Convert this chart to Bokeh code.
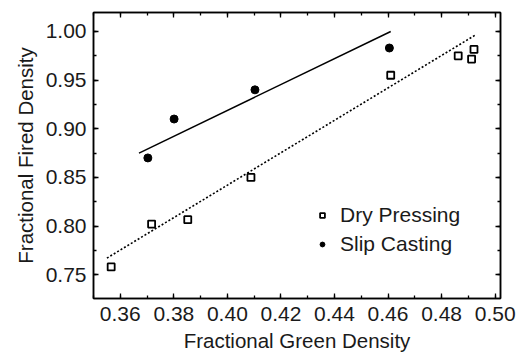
from bokeh.plotting import figure
from bokeh.models import (LinearAxis, Legend, LegendItem, Range1d, SingleIntervalTicker,
                          PrintfTickFormatter, CustomLabelingPolicy)
from bokeh.embed import file_html
from bokeh.resources import INLINE

# Data
dry_x = [0.3566, 0.3717, 0.3852, 0.4088, 0.4610, 0.4862, 0.4912, 0.4921]
dry_y = [0.758, 0.802, 0.8065, 0.850, 0.955, 0.975, 0.9716, 0.9815]
slip_x = [0.3703, 0.3801, 0.4103, 0.4605]
slip_y = [0.870, 0.910, 0.940, 0.983]
slip_fit_x = [0.367, 0.461]
slip_fit_y = [0.875, 1.000]
dry_fit_x = [0.355, 0.493]
dry_fit_y = [0.767, 0.997]
x_ticks = [0.36, 0.38, 0.40, 0.42, 0.44, 0.46, 0.48, 0.50]
y_ticks = [0.75, 0.80, 0.85, 0.90, 0.95, 1.00]

FONT = "Liberation Sans"

p = figure(width=522, height=354, output_backend="svg", toolbar_location=None,
           x_range=Range1d(0.35, 0.502), y_range=Range1d(0.7255, 1.0195),
           min_border_left=93, min_border_right=22, min_border_top=12, min_border_bottom=56)
p.xgrid.visible = False
p.ygrid.visible = False
p.outline_line_color = "black"
p.outline_line_width = 1.5
p.background_fill_color = "white"
p.border_fill_color = "white"

def style(ax, ticks, minor, labels=True):
    ax.ticker = SingleIntervalTicker(interval=ticks, num_minor_ticks=minor)
    ax.formatter = PrintfTickFormatter(format="%.2f")
    ax.major_tick_in = 5
    ax.major_tick_out = 0
    ax.minor_tick_in = 3
    ax.minor_tick_out = 0
    ax.axis_line_color = "black"
    ax.axis_line_width = 1.5
    ax.major_tick_line_color = "black"
    ax.major_tick_line_width = 1.3
    ax.minor_tick_line_color = "black"
    ax.minor_tick_line_width = 1.3
    ax.major_label_text_font = FONT
    ax.major_label_text_font_size = "21px"
    ax.major_label_text_color = "#1a1a1a"
    ax.axis_label_text_font = FONT
    ax.axis_label_text_font_size = "20.5px"
    ax.axis_label_text_font_style = "normal"
    ax.axis_label_text_color = "#1a1a1a"
    if not labels:
        ax.major_label_policy = CustomLabelingPolicy(code="return new Set()")
        ax.major_label_text_font_size = "1px"
        ax.major_label_standoff = 0

style(p.xaxis[0], 0.02, 2)
style(p.yaxis[0], 0.05, 2)
p.xaxis[0].axis_label = "Fractional Green Density"
p.yaxis[0].axis_label = "Fractional Fired Density"
p.xaxis[0].major_label_standoff = 8
p.yaxis[0].major_label_standoff = 7
p.xaxis[0].axis_label_standoff = 5
p.yaxis[0].axis_label_standoff = 6

top = LinearAxis()
style(top, 0.02, 2, labels=False)
right = LinearAxis()
style(right, 0.05, 2, labels=False)
p.add_layout(top, "above")
p.add_layout(right, "right")

p.line(slip_fit_x, slip_fit_y, line_color="black", line_width=1.5)
p.line(dry_fit_x, dry_fit_y, line_color="black", line_width=1.6, line_dash="2 2")
r_dry = p.scatter(dry_x, dry_y, marker="square", size=7, fill_color="white",
                  line_color="black", line_width=1.8)
r_slip = p.scatter(slip_x, slip_y, marker="circle", size=8, fill_color="black",
                   line_color="black", line_width=1)

legend = Legend(items=[LegendItem(label="Dry Pressing", renderers=[r_dry]),
                       LegendItem(label="Slip Casting", renderers=[r_slip])],
                location=(223, 42), orientation="vertical",
                glyph_width=12, glyph_height=22, label_height=22, label_standoff=12,
                spacing=5, padding=0, margin=0,
                border_line_color=None, background_fill_alpha=0,
                label_text_font=FONT, label_text_font_size="21px",
                label_text_color="#1a1a1a")
p.add_layout(legend)

open("out.html", "w").write(file_html(p, INLINE))
